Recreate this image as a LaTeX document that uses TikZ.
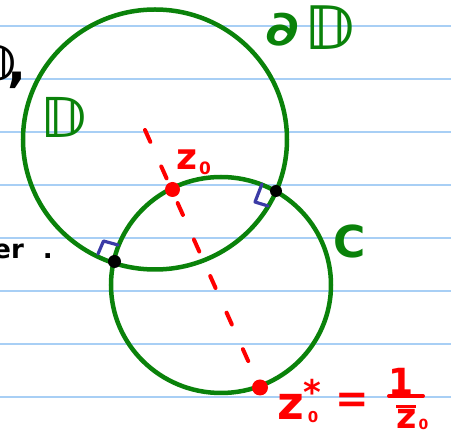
\documentclass[tikz,border=0pt]{standalone}
\usepackage{graphicx}
\usepackage{fontspec}
\setmainfont{DejaVu Sans}
\definecolor{rulecol}{HTML}{A8CFF5}
\definecolor{inkgreen}{HTML}{0A820A}
\definecolor{inkred}{HTML}{FF0000}
\definecolor{inkblue}{HTML}{3B3BA6}
\newcommand\fs[1]{\fontsize{#1}{#1}\selectfont}
\tikzset{
  paperline/.style={rulecol, line width=2.2pt},
  circ/.style={inkgreen, line width=4.5pt},
  reddash/.style={inkred, line width=4pt, line cap=round, dash pattern=on 13pt off 27pt},
  rightmark/.style={inkblue, line width=3.2pt, line cap=round, line join=round},
  blackdot/.style={fill=black},
  reddot/.style={fill=inkred},
  lbl/.style={inner sep=0pt, font=\bfseries},
  greenlbl/.style={lbl, text=inkgreen},
  redlbl/.style={lbl, text=inkred},
  blacklbl/.style={lbl, text=black},
}
\begin{document}
\begin{tikzpicture}[x=1pt,y=-1pt]
\useasboundingbox (0,0) rectangle (451,438);
\clip (0,0) rectangle (451,438);
\fill[white] (0,0) rectangle (451,438);
% ruled paper
\foreach \yy in {26,79,132,185,238,291,344,397}
  \draw[paperline] (0,\yy) -- (451,\yy);
% key points
\coordinate (cD) at (155,139.5);
\coordinate (cC) at (221,285);
\coordinate (z0) at (172.5,189.5);
\coordinate (z0s) at (260,387.5);
\coordinate (dstart) at (145,130);
\coordinate (A) at (276,191);
\coordinate (B) at (114.5,261.5);
% dashed line through z0 and z0*
\draw[reddash] (dstart) -- (z0s);
% circles
\draw[circ] (cD) ellipse [x radius=132pt, y radius=130pt];
\draw[circ] (cC) ellipse [x radius=110pt, y radius=108pt];
% right-angle marks
\draw[rightmark] (262,184) -- (255,202) -- (268,206);
\draw[rightmark] (98,254) -- (103.5,241) -- (118,245);
% intersection points
\fill[blackdot] (A) circle[radius=6pt];
\fill[blackdot] (B) circle[radius=6.5pt];
% red points
\fill[reddot] (z0) circle[radius=7.5pt];
\fill[reddot] (z0s) circle[radius=8pt];
% labels
\node[greenlbl, anchor=base west] (ldD) at (265,50) {\fs{48}\raisebox{4pt}{\scalebox{1.3}[1]{∂}}\kern6pt\fs{60}𝔻};
\node[greenlbl] (lD) at (64.5,117) {\fs{55}𝔻};
\node[greenlbl] (lC) at (350,241) {\fs{44}C};
\node[redlbl, anchor=base west] (lz0) at (176,170) {\fs{36}z\kern2pt\raisebox{-5pt}{\fs{17}0}};
\node[redlbl, anchor=base west] (lzs) at (277,420) {\fs{46}z\rlap{\raisebox{15pt}{\fs{34}*}}\kern4pt\raisebox{-3pt}{\fs{15}0}};
\node[redlbl] (leq) at (352.5,403) {\fs{40}=};
\node[redlbl] (lone) at (401,381) {\fs{36}1};
\draw[inkred, line width=4pt, line cap=round] (389,396) -- (423,396);
\node[redlbl, anchor=base west] (lzb) at (396,429) {\fs{35}\rlap{\raisebox{21pt}{\rule{20pt}{3pt}}}z\kern2pt\raisebox{-1pt}{\fs{14}0}};
% cropped black fragments
\node[blacklbl, anchor=base east] (lfrag1) at (27,82) {\fs{50}𝔻\kern-9pt,};
\node[blacklbl, anchor=base east] (lfrag2) at (53,259) {\fs{26}er\kern19pt.};
\end{tikzpicture}
\end{document}
